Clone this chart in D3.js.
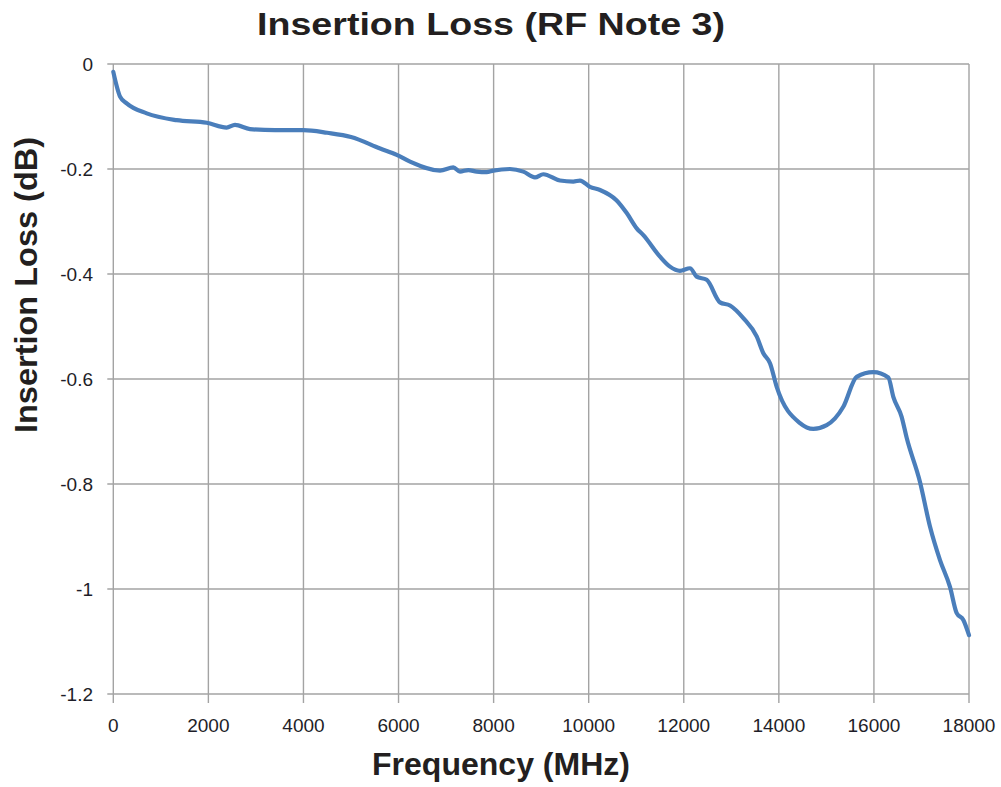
<!DOCTYPE html>
<html><head><meta charset="utf-8">
<script src="https://cdn.jsdelivr.net/npm/d3@7"></script>
<style>body{margin:0;background:#fff}svg{display:block}</style>
</head><body>
<svg id="c" width="1001" height="787"></svg>
<script>
const freq = [0,142,282,703,1333,1965,2385,2560,2876,3400,4000,4500,5000,5613,5962,6242,6873,7153,7293,7469,7644,7855,7993,8344,8624,8870,9045,9396,9676,9817,10027,10238,10589,10800,11010,11150,11500,11710,11920,12131,12271,12482,12762,12973,13253,13534,13674,13814,13955,14445,14725,15006,15356,15637,15987,16303,16408,16583,16689,16969,17179,17390,17600,17741,17881,18000];
const loss = [-0.015,-0.062,-0.075,-0.094,-0.107,-0.112,-0.121,-0.116,-0.124,-0.126,-0.126,-0.131,-0.139,-0.161,-0.173,-0.186,-0.203,-0.197,-0.205,-0.202,-0.205,-0.206,-0.203,-0.200,-0.205,-0.216,-0.210,-0.222,-0.224,-0.222,-0.234,-0.240,-0.260,-0.284,-0.313,-0.326,-0.367,-0.386,-0.394,-0.389,-0.405,-0.411,-0.454,-0.460,-0.484,-0.519,-0.551,-0.570,-0.615,-0.684,-0.695,-0.688,-0.653,-0.596,-0.587,-0.597,-0.634,-0.672,-0.712,-0.796,-0.881,-0.945,-0.996,-1.046,-1.059,-1.088];
const xTicks = [0,2000,4000,6000,8000,10000,12000,14000,16000,18000];
const yTicks = [0,-0.2,-0.4,-0.6,-0.8,-1,-1.2];
const title = "Insertion Loss (RF Note 3)";
const xTitle = "Frequency (MHz)";
const yTitle = "Insertion Loss (dB)";

const svg = d3.select("#c");
const L=113.3, R=969, T=64, B=694;
const x = d3.scaleLinear().domain([0,18000]).range([L,R]);
const y = d3.scaleLinear().domain([-1.2,0]).range([B,T]);
const grid = "#a3a3a3";

// gridlines
svg.append("g").selectAll("line").data(xTicks).join("line")
  .attr("x1",d=>x(d)).attr("x2",d=>x(d)).attr("y1",T).attr("y2",B+9)
  .attr("stroke",grid).attr("stroke-width",1.4);
svg.append("g").selectAll("line").data(yTicks).join("line")
  .attr("x1",L-6).attr("x2",R).attr("y1",d=>y(d)).attr("y2",d=>y(d))
  .attr("stroke",grid).attr("stroke-width",1.4);

// tick labels
const tf = "'Liberation Sans', Arial, sans-serif";
svg.append("g").selectAll("text").data(xTicks).join("text")
  .attr("x",d=>x(d)).attr("y",732).attr("text-anchor","middle")
  .attr("font-family",tf).attr("font-size",19).attr("fill","#1e1e28").text(d=>d);
svg.append("g").selectAll("text").data(yTicks).join("text")
  .attr("x",93).attr("y",d=>y(d)+7).attr("text-anchor","end")
  .attr("font-family",tf).attr("font-size",19).attr("fill","#1e1e28").text(d=>d);

// line
const line = d3.line().x((d,i)=>x(freq[i])).y(d=>y(d)).curve(d3.curveMonotoneX);
svg.append("path").datum(loss).attr("d",line).attr("fill","none")
  .attr("stroke","#4a7ebb").attr("stroke-width",4.2).attr("stroke-linejoin","round").attr("stroke-linecap","round");

// titles
const bf = "'Liberation Sans', Arial, sans-serif";
svg.append("text").attr("x",491).attr("y",35).attr("text-anchor","middle")
  .attr("font-family",bf).attr("font-weight","bold").attr("font-size",32)
  .attr("textLength",468).attr("lengthAdjust","spacingAndGlyphs").attr("fill","#231f20").text(title);
svg.append("text").attr("x",501).attr("y",775).attr("text-anchor","middle")
  .attr("font-family",bf).attr("font-weight","bold").attr("font-size",31)
  .attr("textLength",258).attr("lengthAdjust","spacingAndGlyphs").attr("fill","#231f20").text(xTitle);
svg.append("text").attr("transform","translate(37,285) rotate(-90)").attr("text-anchor","middle")
  .attr("font-family",bf).attr("font-weight","bold").attr("font-size",32)
  .attr("textLength",296).attr("lengthAdjust","spacingAndGlyphs").attr("fill","#231f20").text(yTitle);
</script>
</body></html>
